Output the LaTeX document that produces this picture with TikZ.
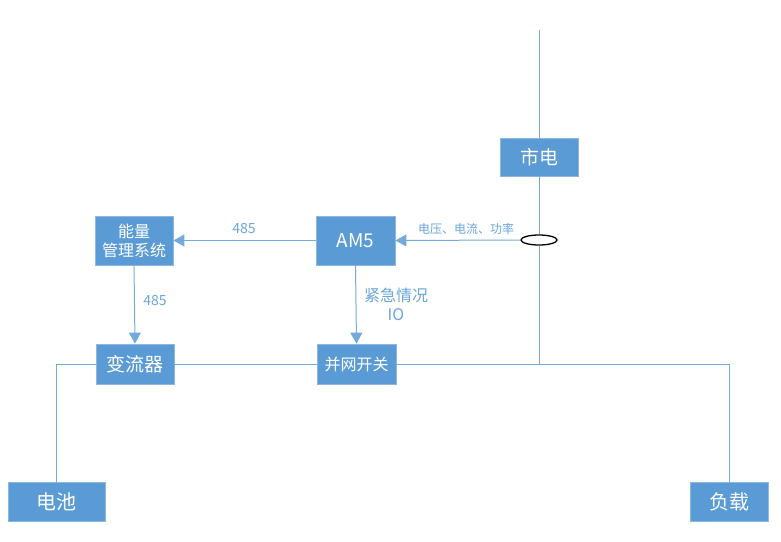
\documentclass[tikz,border=0pt]{standalone}
\usepackage{fontspec}
\setmainfont{Noto Sans CJK SC}
\usetikzlibrary{shapes.geometric, arrows.meta}

\definecolor{boxblue}{HTML}{5B9BD5}
\definecolor{edgeblue}{HTML}{8DB6E0}
\definecolor{wireblue}{HTML}{74A9DB}

\tikzset{
  blockbox/.style={draw=edgeblue, line width=0.8pt, fill=boxblue, text=white,
    inner sep=0pt, align=center},
  wire/.style={draw=wireblue, line width=1pt},
  sig/.style={wire, -{Triangle[length=11pt,width=12pt]}},
  tag/.style={text=boxblue!90, inner sep=0pt, align=center}
}

\begin{document}
\begin{tikzpicture}[x=1pt,y=-1pt]
\path[use as bounding box] (0,0) rectangle (781,541);

% blocks
\node[blockbox, minimum width=78pt, minimum height=38pt, font=\fontsize{19}{19}\selectfont] (grid) at (539,157) {市电};
\node[blockbox, minimum width=79pt, minimum height=49pt, font=\fontsize{19}{19}\selectfont] (am5) at (355.5,240.5) {AM5};
\node[blockbox, minimum width=78pt, minimum height=49pt, font=\fontsize{16}{19}\selectfont] (ems) at (134,240.5) {能量\\管理系统};
\node[blockbox, minimum width=78pt, minimum height=40pt, font=\fontsize{19}{19}\selectfont] (pcs) at (135,364) {变流器};
\node[blockbox, minimum width=79pt, minimum height=40pt, font=\fontsize{16}{16}\selectfont] (pcc) at (356.5,364) {并网开关};
\node[blockbox, minimum width=97pt, minimum height=39pt, font=\fontsize{20}{20}\selectfont] (batt) at (56.5,501.5) {电池};
\node[blockbox, minimum width=78pt, minimum height=39pt, font=\fontsize{20}{20}\selectfont] (load) at (729,501.5) {负载};

% current sensor
\node[ellipse, draw=black, line width=1.3pt, minimum width=36pt, minimum height=10pt, inner sep=0pt] (ct) at (539,240) {};
\coordinate (top) at (539,30);
\coordinate (bus) at (539,364);

% mains line and bus
\draw[wire] (top) -- (grid.north);
\draw[wire] (grid.south) -- (ct.north);
\draw[wire] (ct.south) -- (bus);
\draw[wire] (batt.north) |- (pcs.west);
\draw[wire] (pcs.east) -- (pcc.west);
\draw[wire] (pcc.east) -| (load.north);

% signals
\draw[sig] (ct.west) -- (am5.east);
\draw[sig] (am5.west) -- (ems.east);
\draw[sig] (ems.south) -- (pcs.north);
\draw[sig] (am5.south) -- (pcc.north);

% labels
\node[tag, font=\fontsize{12}{12}\selectfont] (lmeas) at (466,229) {电压、电流、功率};
\node[tag, font=\fontsize{14}{14}\selectfont] (lbus1) at (244,229) {485};
\node[tag, font=\fontsize{14}{14}\selectfont] (lbus2) at (155,301) {485};
\node[tag, font=\fontsize{16}{19}\selectfont] (lio) at (396,304) {紧急情况\\IO};
\end{tikzpicture}
\end{document}
